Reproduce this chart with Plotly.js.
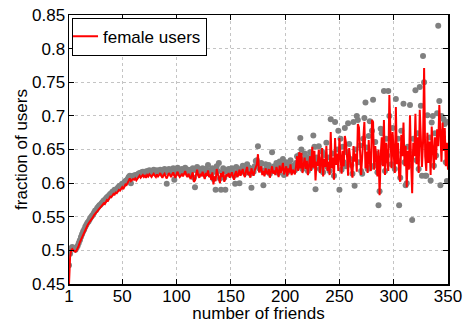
<!DOCTYPE html>
<html>
<head>
<meta charset="utf-8">
<script src="https://cdn.plot.ly/plotly-3.0.1.min.js"></script>
<style>html,body{margin:0;padding:0;background:#fff;}#chart{width:464px;height:323px;}</style>
</head>
<body>
<div id="chart"></div>
<script>
// fraction of female users (red line), one value per number of friends 1..350
const femaleUsers = [
0.450,0.490,0.500,0.502,0.500,0.499,0.498,0.500,0.503,0.507,
0.512,0.516,0.520,0.524,0.528,0.531,0.534,0.537,0.540,0.542,
0.545,0.547,0.549,0.552,0.555,0.556,0.558,0.561,0.562,0.564,
0.566,0.568,0.570,0.569,0.573,0.575,0.574,0.578,0.580,0.579,
0.582,0.584,0.583,0.586,0.585,0.588,0.590,0.589,0.592,0.594,
0.591,0.596,0.598,0.597,0.601,0.604,0.607,0.603,0.604,0.606,
0.605,0.607,0.604,0.606,0.609,0.611,0.608,0.610,0.612,0.609,
0.611,0.608,0.612,0.610,0.613,0.611,0.609,0.612,0.614,0.611,
0.609,0.613,0.610,0.612,0.615,0.611,0.608,0.612,0.614,0.610,
0.607,0.611,0.615,0.612,0.609,0.613,0.616,0.611,0.608,0.613,
0.617,0.612,0.609,0.611,0.614,0.610,0.613,0.618,0.612,0.609,
0.614,0.611,0.606,0.612,0.616,0.602,0.604,0.613,0.620,0.611,
0.608,0.614,0.610,0.617,0.612,0.606,0.615,0.611,0.619,0.609,
0.613,0.605,0.616,0.598,0.610,0.603,0.621,0.612,0.608,0.600,
0.615,0.609,0.617,0.602,0.607,0.613,0.610,0.615,0.608,0.612,
0.616,0.610,0.605,0.614,0.618,0.609,0.612,0.620,0.611,0.616,
0.621,0.613,0.609,0.618,0.624,0.612,0.617,0.608,0.622,0.615,
0.611,0.619,0.623,0.628,0.643,0.616,0.620,0.625,0.612,0.618,
0.610,0.622,0.616,0.613,0.621,0.608,0.617,0.625,0.614,0.619,
0.612,0.624,0.618,0.609,0.626,0.615,0.621,0.630,0.613,0.619,
0.625,0.610,0.622,0.616,0.628,0.612,0.620,0.617,0.613,0.624,
0.640,0.618,0.646,0.622,0.645,0.615,0.630,0.638,0.621,0.633,
0.612,0.627,0.640,0.618,0.654,0.623,0.648,0.604,0.632,0.626,
0.650,0.615,0.628,0.652,0.610,0.636,0.624,0.655,0.618,0.632,
0.612,0.676,0.622,0.638,0.605,0.667,0.627,0.644,0.618,0.667,
0.630,0.614,0.648,0.625,0.670,0.661,0.640,0.611,0.652,0.630,
0.621,0.608,0.655,0.632,0.644,0.617,0.688,0.683,0.650,0.612,
0.640,0.660,0.691,0.622,0.647,0.615,0.664,0.631,0.618,0.694,
0.691,0.620,0.655,0.638,0.610,0.650,0.582,0.640,0.668,0.625,
0.694,0.612,0.660,0.635,0.618,0.731,0.650,0.622,0.676,0.640,
0.615,0.713,0.628,0.660,0.611,0.602,0.672,0.640,0.690,0.625,
0.655,0.594,0.648,0.620,0.701,0.632,0.585,0.660,0.640,0.703,
0.628,0.668,0.615,0.709,0.650,0.624,0.660,0.771,0.640,0.618,
0.675,0.630,0.662,0.612,0.684,0.645,0.620,0.668,0.635,0.680,
0.655,0.716,0.660,0.632,0.690,0.648,0.682,0.625,0.660,0.620
];
// gray dots, one value per number of friends 1..350
const grayDots = [
0.478,0.495,0.503,0.505,0.503,0.502,0.501,0.504,0.507,0.511,
0.515,0.520,0.524,0.528,0.531,0.535,0.538,0.541,0.543,0.546,
0.549,0.551,0.553,0.556,0.559,0.560,0.563,0.565,0.567,0.568,
0.570,0.572,0.574,0.575,0.577,0.579,0.580,0.582,0.584,0.585,
0.587,0.588,0.590,0.590,0.591,0.593,0.595,0.596,0.597,0.599,
0.598,0.601,0.603,0.604,0.606,0.609,0.611,0.600,0.609,0.611,
0.610,0.612,0.611,0.613,0.614,0.615,0.614,0.616,0.617,0.615,
0.617,0.614,0.618,0.616,0.619,0.617,0.615,0.618,0.620,0.618,
0.616,0.619,0.617,0.618,0.620,0.617,0.614,0.619,0.621,0.616,
0.599,0.618,0.621,0.619,0.616,0.620,0.622,0.605,0.614,0.619,
0.623,0.618,0.616,0.619,0.621,0.617,0.620,0.623,0.619,0.616,
0.620,0.618,0.612,0.619,0.622,0.608,0.594,0.619,0.624,0.617,
0.615,0.620,0.617,0.622,0.619,0.613,0.621,0.618,0.627,0.616,
0.619,0.612,0.622,0.606,0.617,0.590,0.625,0.618,0.630,0.607,
0.590,0.616,0.622,0.608,0.590,0.619,0.616,0.621,0.614,0.618,
0.622,0.617,0.611,0.599,0.624,0.615,0.619,0.600,0.618,0.622,
0.626,0.619,0.615,0.624,0.628,0.618,0.623,0.614,0.593,0.621,
0.617,0.625,0.633,0.634,0.655,0.622,0.627,0.630,0.619,0.597,
0.616,0.628,0.622,0.619,0.627,0.614,0.623,0.646,0.620,0.625,
0.618,0.630,0.624,0.615,0.632,0.621,0.627,0.636,0.612,0.625,
0.631,0.616,0.628,0.622,0.634,0.618,0.626,0.623,0.619,0.630,
0.640,0.624,0.642,0.667,0.650,0.621,0.636,0.644,0.627,0.639,
0.618,0.633,0.646,0.624,0.641,0.671,0.654,0.591,0.638,0.632,
0.655,0.621,0.634,0.647,0.616,0.642,0.630,0.660,0.624,0.638,
0.618,0.695,0.628,0.644,0.611,0.691,0.633,0.650,0.678,0.590,
0.666,0.620,0.654,0.631,0.682,0.625,0.646,0.689,0.658,0.636,
0.627,0.614,0.691,0.596,0.650,0.700,0.694,0.631,0.656,0.618,
0.614,0.666,0.697,0.720,0.653,0.621,0.670,0.692,0.624,0.678,
0.724,0.626,0.661,0.644,0.616,0.567,0.588,0.681,0.674,0.631,
0.737,0.618,0.666,0.641,0.737,0.700,0.656,0.628,0.682,0.646,
0.621,0.725,0.634,0.666,0.567,0.608,0.678,0.646,0.718,0.631,
0.597,0.600,0.654,0.626,0.716,0.638,0.545,0.666,0.646,0.738,
0.634,0.674,0.621,0.743,0.715,0.611,0.789,0.750,0.611,0.611,
0.701,0.636,0.668,0.604,0.690,0.700,0.626,0.674,0.641,0.704,
0.834,0.722,0.597,0.700,0.676,0.695,0.688,0.631,0.603,0.691
];
const friends = femaleUsers.map((_, i) => i + 1);
const xTicks = [1, 50, 100, 150, 200, 250, 300, 350];
const yTicks = [0.45, 0.5, 0.55, 0.6, 0.65, 0.7, 0.75, 0.8, 0.85];
const yTickText = ["0.45", "0.5", "0.55", "0.6", "0.65", "0.7", "0.75", "0.8", "0.85"];

const font = {family: "Liberation Sans, Arial, sans-serif", size: 17, color: "#000"};
const data = [
  {x: friends, y: grayDots, type: "scatter", mode: "markers",
   marker: {color: "#808080", size: 6}, showlegend: false, hoverinfo: "skip"},
  {x: friends, y: femaleUsers, type: "scatter", mode: "lines", name: "female users",
   line: {color: "#ff0000", width: 2}}
];
const axisCommon = {
  showline: true, mirror: "ticks", linecolor: "#000", linewidth: 1.5,
  ticks: "inside", ticklen: 5, tickcolor: "#000", tickwidth: 1,
  showgrid: true, gridcolor: "#c4c4c4", griddash: "dot", gridwidth: 1,
  zeroline: false, tickfont: font
};
const layout = {
  width: 464, height: 323,
  margin: {l: 69, r: 16, t: 15, b: 39},
  paper_bgcolor: "#fff", plot_bgcolor: "#fff",
  font: font,
  xaxis: Object.assign({}, axisCommon, {
    range: [1, 350], tickvals: xTicks, ticktext: xTicks.map(String),
    ticklabelstandoff: -4,
    title: {text: "number of friends", font: font, standoff: 2}
  }),
  yaxis: Object.assign({}, axisCommon, {
    range: [0.45, 0.85], tickvals: yTicks, ticktext: yTickText,
    ticklabelstandoff: -1,
    title: {text: "fraction of users", font: font, standoff: 0}
  }),
  legend: {x: 0.008, y: 0.99, xanchor: "left", yanchor: "top",
    bgcolor: "#fff", bordercolor: "#000", borderwidth: 1,
    font: font, itemwidth: 30, tracegroupgap: 0, indentation: -10},
  showlegend: true
};
Plotly.newPlot("chart", data, layout, {staticPlot: true, displayModeBar: false});
</script>
</body>
</html>
